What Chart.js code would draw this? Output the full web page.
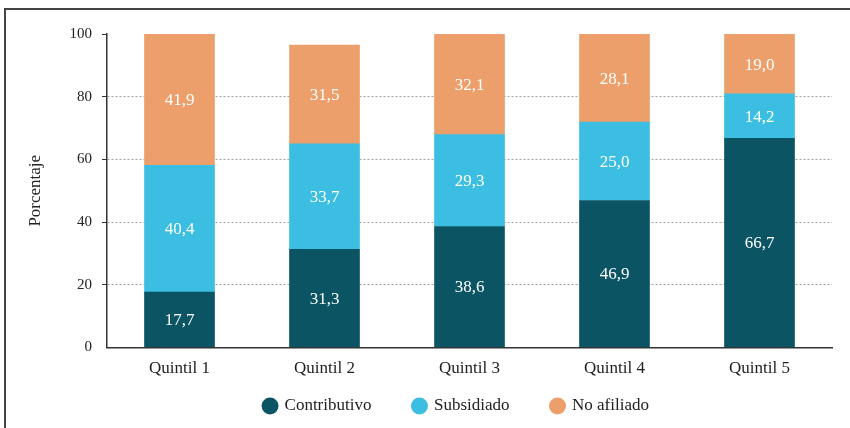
<!DOCTYPE html>
<html>
<head>
<meta charset="utf-8">
<script src="https://cdn.jsdelivr.net/npm/chart.js@4/dist/chart.umd.min.js"></script>
<style>
  html, body { margin: 0; padding: 0; overflow: hidden; background: #fff; }
  .frame { position: absolute; left: 4px; top: 8px; width: 900px; height: 500px; border: 2px solid #444; }
  .box { position: absolute; left: 0; top: 0; width: 850px; height: 428px; }
</style>
</head>
<body>
<div class="frame"></div>
<div class="box"><canvas id="chart"></canvas></div>
<script>
// data
let quintiles = ["Quintil 1", "Quintil 2", "Quintil 3", "Quintil 4", "Quintil 5"];
let contributivo = [17.7, 31.3, 38.6, 46.9, 66.7];
let subsidiado = [40.4, 33.7, 29.3, 25.0, 14.2];
let noAfiliado = [41.9, 31.5, 32.1, 28.1, 19.0];
let yTicks = [0, 20, 40, 60, 80, 100];

let serif = "'Liberation Serif', 'Times New Roman', serif";

//draw the value in the middle of each bar piece
let barLabels = {
  id: "barLabels",
  afterDatasetsDraw(chart) {
    let ctx = chart.ctx;
    ctx.save();
    ctx.fillStyle = "#ffffff";
    ctx.font = "17px " + serif;
    ctx.textAlign = "center";
    ctx.textBaseline = "middle";
    chart.data.datasets.forEach((ds, i) => {
      chart.getDatasetMeta(i).data.forEach((bar, j) => {
        let txt = ds.data[j].toFixed(1).replace(".", ",");
        ctx.fillText(txt, bar.x, (bar.y + bar.base) / 2 + 1);
      });
    });
    ctx.restore();
  },
};

//move the legend under the plot, centred on the bars
let legendPlace = {
  id: "legendPlace",
  afterLayout(chart) {
    let lg = chart.legend;
    let h = lg.height;
    lg.left = 81;
    lg.right = chart.chartArea.right;
    lg.width = lg.right - lg.left;
    lg.top = 355.5;
    lg.bottom = lg.top + 70;
    lg.height = 70;
  },
};

let myChart = new Chart(document.getElementById("chart"), {
  type: "bar",
  data: {
    labels: quintiles,
    datasets: [
      { label: "Contributivo", data: contributivo, backgroundColor: "#0b5463" },
      { label: "Subsidiado", data: subsidiado, backgroundColor: "#3bbee1" },
      { label: "No afiliado", data: noAfiliado, backgroundColor: "#ec9f6b" },
    ],
  },
  plugins: [barLabels, legendPlace],
  options: {
    responsive: true,
    maintainAspectRatio: false,
    animation: false,
    layout: { padding: { left: 0, right: 18, top: 34, bottom: 8.5 } },
    datasets: { bar: { barThickness: 70 } },
    scales: {
      x: {
        stacked: true,
        grid: { display: false, drawTicks: false },
        border: { display: true, color: "#333", width: 1.5 },
        ticks: { color: "#222", padding: 11, font: { family: serif, size: 17 } },
        afterFit: (scale) => { scale.height = 32; },
      },
      y: {
        stacked: true,
        min: 0,
        max: 100,
        afterBuildTicks: (scale) => { scale.ticks = yTicks.map((v) => ({ value: v })); },
        grid: {
          color: (c) => (c.tick && (c.tick.value === 0 || c.tick.value === 100) ? "rgba(0,0,0,0)" : "#9ca4ad"),
          tickLength: 5,
          tickColor: (c) => (c.tick && c.tick.value === 0 ? "rgba(0,0,0,0)" : "#333"),
          tickBorderDash: [],
        },
        border: { display: true, color: "#333", width: 1.5, dash: [2, 2] },
        ticks: { color: "#222", padding: 10, font: { family: serif, size: 15 } },
        title: {
          display: true,
          text: "Porcentaje",
          color: "#222",
          padding: { top: 25 },
          font: { family: serif, size: 17 },
        },
        afterFit: (scale) => { scale.width = 107; },
      },
    },
    plugins: {
      tooltip: false,
      legend: {
        position: "bottom",
        maxHeight: 40,
        labels: {
          usePointStyle: true,
          pointStyle: "circle",
          boxWidth: 12,
          boxHeight: 12,
          padding: 42,
          color: "#222",
          font: { family: serif, size: 17 },
        },
      },
    },
  },
});
</script>
</body>
</html>
